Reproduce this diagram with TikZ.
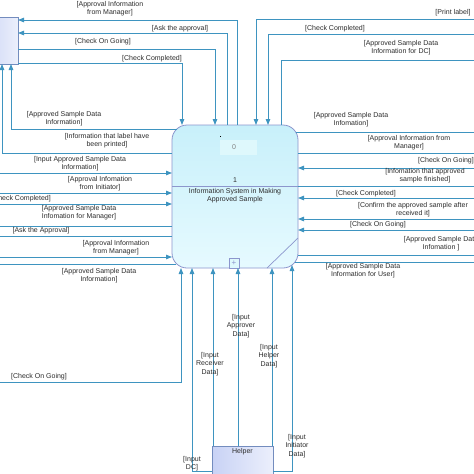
\documentclass[tikz,border=0pt]{standalone}
\usepackage{fontspec}
\setmainfont{Liberation Sans}
\usetikzlibrary{arrows.meta, calc}

\definecolor{flowblue}{RGB}{62,148,192}
\definecolor{procline}{RGB}{140,150,205}
\definecolor{proctop}{RGB}{200,240,250}
\definecolor{procbot}{RGB}{230,250,255}
\definecolor{idfill}{RGB}{222,248,252}
\definecolor{entline}{RGB}{115,140,190}
\definecolor{entfill}{RGB}{200,210,245}
\definecolor{txtgray}{RGB}{45,45,45}

\begin{document}
\begin{tikzpicture}[x=1pt, y=-1pt,
    flow/.style={draw=flowblue, line width=0.9pt},
    inflow/.style={flow, -{Triangle[length=6pt,width=4.5pt]}},
    lbl/.style={font=\fontsize{7}{8.2}\selectfont, text=txtgray, align=center, inner sep=0pt},
    procbox/.style={draw=procline, line width=0.8pt, rounded corners=15pt, top color=proctop, bottom color=procbot,
        minimum width=126pt, minimum height=143pt, inner sep=0pt, outer sep=0pt},
    entbox/.style={draw=entline, line width=0.7pt, left color=entfill, right color=entfill!35!white, inner sep=0pt, outer sep=0pt}]

    \clip (0,0) rectangle (474,474);
    \fill[white] (0,0) rectangle (474,474);

    % process and entities
    \node[procbox] (proc) at (235,196.5) {};
    \node[entbox, minimum width=40pt, minimum height=47pt] (ent) at (-2,40.5) {};
    \node[entbox, minimum width=61pt, minimum height=50pt, anchor=north] (helper) at (242.5,446) {};
    \node[lbl] (hname) at (242.5,452) {Helper};

    % inside the process
    \node[fill=idfill, minimum width=37pt, minimum height=15pt, inner sep=0pt] (pid) at (238.5,147.5) {};
    \node[lbl, text=gray] (pzero) at (234,147) {0};
    \fill[black] (219.5,135.5) rectangle (221,137);
    \draw[procline, line width=0.7pt] (proc.west |- 0,186) -- (proc.east |- 0,186);
    \node[lbl] (pnum) at (235,180) {1};
    \node[lbl] (pname) at (235,195.5) {Information System in Making\\Approved Sample};
    \node[draw=procline, fill=idfill, minimum size=10pt, inner sep=0pt, text=procline,
        font=\fontsize{8}{8}\selectfont] (pplus) at (234,263) {+};
    \draw[procline, line width=0.7pt] ([xshift=-31pt]proc.south east) -- ([yshift=30pt]proc.south east);

    % free ends at the edges
    \foreach \y in {173,193,204,226,236,257,264,382}
        \coordinate (W\y) at (-1,\y);
    \foreach \y in {19,34,60,132,153,168,186,198,219,230,255,262}
        \coordinate (E\y) at (475,\y);

    % top left entity
    \draw[inflow] (proc.north -| 237,0) |- (ent.east |- 0,20);
    \draw[inflow] (proc.north -| 227,0) |- (ent.east |- 0,33);
    \draw[inflow] (ent.east |- 0,49) -| (proc.north -| 215,0);
    \draw[inflow] (ent.east |- 0,63) -| (proc.north -| 182,0);
    \draw[inflow] ($(proc.west |- 0,129)+(5,0)$) -| (ent.south -| 11,0);
    \draw[inflow] (proc.west |- 0,153) -| (ent.south -| 2,0);

    % top right
    \draw[inflow] (E19) -| (proc.north -| 256,0);
    \draw[inflow] (E34) -| (proc.north -| 268,0);
    \draw[flow] (proc.north -| 281,0) |- (E60);

    % left side
    \draw[inflow] (W173) -- (proc.west |- W173);
    \draw[inflow] (W193) -- (proc.west |- W193);
    \draw[inflow] (W204) -- (proc.west |- W204);
    \draw[flow] (proc.west |- W226) -- (W226);
    \draw[flow] (proc.west |- W236) -- (W236);
    \draw[inflow] (W257) -- (proc.west |- W257);
    \draw[flow] ($(proc.west |- W264)+(4,0)$) -- (W264);

    % right side
    \draw[flow] ($(proc.east |- E132)-(2,0)$) -- (E132);
    \draw[flow] (proc.east |- E153) -- (E153);
    \draw[inflow] (E168) -- (proc.east |- E168);
    \draw[flow] (proc.east |- E186) -- (E186);
    \draw[inflow] (E198) -- (proc.east |- E198);
    \draw[inflow] (E219) -- (proc.east |- E219);
    \draw[inflow] (E230) -- (proc.east |- E230);
    \draw[flow] (proc.east |- E255) -- (E255);
    \draw[flow] ($(proc.east |- E262)-(3,0)$) -- (E262);

    % bottom
    \draw[inflow] (W382) -| (proc.south -| 181,0);
    \draw[inflow] (helper.west |- 0,471) -| (proc.south -| 192,0);
    \draw[inflow] (helper.north -| 213,0) -- (proc.south -| 213,0);
    \draw[inflow] (helper.north -| 238,0) -- (proc.south -| 238,0);
    \draw[inflow] (helper.north -| 272,0) -- (proc.south -| 272,0);
    \draw[inflow] (helper.east |- 0,471) -| ($(proc.south -| 292,0)+(0,-3)$);

    % labels
    \node[lbl] (lapprmgr) at (110,9) {[Approval Information\\from Manager]};
    \node[lbl] (laskappr) at (180,28.5) {[Ask the approval]};
    \node[lbl] (lgoing) at (103,42) {[Check On Going]};
    \node[lbl] (ldone) at (152,58.5) {[Check Completed]};
    \node[lbl] (lprint) at (453,13) {[Print label]};
    \node[lbl] (ldonetr) at (335,29) {[Check Completed]};
    \node[lbl] (ldc) at (401,48) {[Approved Sample Data\\Information for DC]};
    \node[lbl] (lsample) at (64,119) {[Approved Sample Data\\Information]};
    \node[lbl] (lprinted) at (107,141) {[Information that label have\\been printed]};
    \node[lbl] (linput) at (80,164) {[Input Approved Sample Data\\Information]};
    \node[lbl] (linit) at (100,184) {[Approval Infomation\\from Initiator]};
    \node[lbl, anchor=east] (ldonel) at (51,199) {[Check Completed]};
    \node[lbl] (lmgr) at (79,213) {[Approved Sample Data\\Infomation for Manager]};
    \node[lbl] (laskl) at (41,230.5) {[Ask the Approval]};
    \node[lbl] (lapprl) at (116,247.5) {[Approval Information\\from Manager]};
    \node[lbl] (lsamplel) at (99,276) {[Approved Sample Data\\Information]};
    \node[lbl] (lsampler) at (351,120) {[Approved Sample Data\\Infomation]};
    \node[lbl] (lapprr) at (409,143) {[Approval Information from\\Manager]};
    \node[lbl] (lgoingr) at (446,161) {[Check On Going]};
    \node[lbl] (lfinish) at (425,176) {[Infomation that approved\\sample finished]};
    \node[lbl] (ldoner) at (366,194) {[Check Completed]};
    \node[lbl] (lconfirm) at (413,210) {[Confirm the approved sample after\\received it]};
    \node[lbl] (lgoingr2) at (378,225) {[Check On Going]};
    \node[lbl] (lsampler2) at (441,244) {[Approved Sample Data\\Infomation ]};
    \node[lbl] (luser) at (363,271) {[Approved Sample Data\\Information for User]};
    \node[lbl] (lgoingb) at (39,377) {[Check On Going]};
    \node[lbl] (ldcin) at (192,464) {[Input\\DC]};
    \node[lbl] (lrecv) at (210,364) {[Input\\Receiver\\Data]};
    \node[lbl] (lappv) at (241,326) {[Input\\Approver\\Data]};
    \node[lbl] (lhelp) at (269,356) {[Input\\Helper\\Data]};
    \node[lbl] (linitb) at (297,446) {[Input\\Initiator\\Data]};

\end{tikzpicture}
\end{document}
